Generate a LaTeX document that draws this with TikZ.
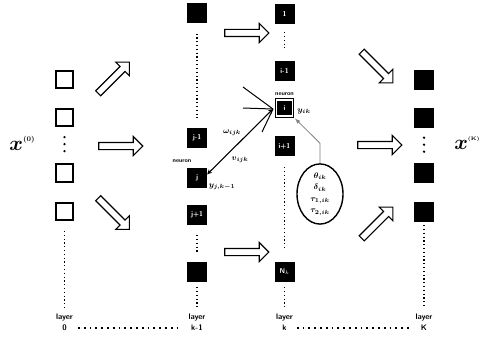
\documentclass[tikz,border=0pt]{standalone}
\usepackage{amsmath}
\usetikzlibrary{shapes.arrows, shapes.geometric}
\begin{document}
\begin{tikzpicture}[x=1pt, y=-1pt,
    inbox/.style={draw, line width=1.6pt, fill=white, minimum size=17.5pt, inner sep=0pt},
    unit/.style={fill=black, minimum size=20pt, inner sep=0pt, text=white, font=\sffamily\bfseries\fontsize{7}{7}\selectfont},
    ineuron/.style={unit, minimum size=16pt, draw=black, line width=1pt, double=white, double distance=1.4pt},
    vdot/.style={line width=1.2pt, dash pattern=on 1.2pt off 2.6pt},
    bigdot/.style={line width=2.6pt, line cap=round, dash pattern=on 0pt off 7pt},
    hdot/.style={line width=1.8pt, dash pattern=on 1.8pt off 4pt},
    hollow/.style={single arrow, draw, line width=1.1pt, fill=white, minimum height=44pt, inner sep=3pt, single arrow head extend=6pt},
    lab/.style={font=\sffamily\bfseries\footnotesize, inner sep=0pt},
    tinylab/.style={font=\sffamily\bfseries\fontsize{6}{6}\selectfont, inner sep=0pt},
    mlab/.style={font=\footnotesize\boldmath, inner sep=0pt}]
  \useasboundingbox (0,0) rectangle (484,337);

  % layer 0
  \node[inbox] (a1) at (64.5,79.5) {};
  \node[inbox] (a2) at (64.5,117.5) {};
  \node[inbox] (a3) at (64.5,173) {};
  \node[inbox] (a4) at (64.5,211.5) {};
  \draw[bigdot, shorten <=10pt, shorten >=11pt] (a2) -- (a3);
  \node (x0) at (22,143) {\huge$\boldsymbol{x}$\raisebox{9pt}{\scriptsize\bfseries(0)}};

  % layer k-1
  \node[unit] (b1) at (197,13.5) {};
  \node[unit] (bjm) at (197,138) {j-1};
  \node[unit] (bj) at (197,178) {j};
  \node[unit] (bjp) at (197,215) {j+1};
  \node[unit] (bN) at (197,272) {};
  \draw[vdot, shorten <=10pt, shorten >=10pt] (b1) -- (bjm);
  \draw[vdot, shorten <=10pt, shorten >=10pt] (bjp) -- (bN);

  % layer k
  \node[unit] (c1) at (284.5,14) {1};
  \node[unit] (cim) at (284.5,71) {i-1};
  \node[ineuron] (ci) at (284.5,108) {i};
  \node[unit] (cip) at (284.5,146) {i+1};
  \node[unit] (cN) at (284.5,272) {N$_k$};
  \draw[vdot, shorten <=8pt, shorten >=13pt] (c1) -- (cim);
  \draw[vdot, shorten <=11pt, shorten >=12pt] (cip) -- (cN);

  % layer K
  \node[unit] (d1) at (424,79.5) {};
  \node[unit] (d2) at (424,117.5) {};
  \node[unit] (d3) at (424,173) {};
  \node[unit] (d4) at (424,212) {};
  \draw[bigdot, shorten <=10pt, shorten >=11pt] (d2) -- (d3);
  \node (xK) at (467,143) {\huge$\boldsymbol{x}$\raisebox{9pt}{\tiny\bfseries(K)}};

  % block arrows
  \node[hollow, rotate=45] (ar1) at (112.5,79) {};
  \node[hollow] (ar2) at (119,146) {};
  \node[hollow, rotate=-45] (ar3) at (112.5,212.5) {};
  \node[hollow] (ar4) at (245,33) {};
  \node[hollow] (ar5) at (245,252) {};
  \node[hollow, rotate=-45] (ar6) at (376,66) {};
  \node[hollow] (ar7) at (378,145) {};
  \node[hollow, rotate=45] (ar8) at (376,224) {};

  % weights into neuron i
  \coordinate (tip) at (273,109);
  \coordinate (f1) at (243,87);
  \coordinate (f2) at (243,108);
  \coordinate (f3) at (262,132);
  \draw[line width=1pt] (f1) -- (tip);
  \draw[line width=1pt] (f2) -- (tip);
  \draw[line width=1pt] (f3) -- (tip);
  \draw[<->, >=stealth, line width=1.1pt] (bj.20) -- (tip);
  \node[mlab] (w) at (232,133) {$\omega_{ijk}$};
  \node[mlab] (v) at (240,160) {$v_{ijk}$};
  \node[tinylab] (nj) at (182,161) {neuron};
  \node[mlab] (yj) at (222,187) {$y_{j,k-1}$};
  \node[tinylab] (ni) at (284.5,94) {neuron};
  \node[mlab] (yi) at (304,111) {$y_{ik}$};

  % parameters
  \node[draw, ellipse, line width=1.4pt, minimum width=46pt, minimum height=60pt, inner sep=0pt,
        align=center, font=\footnotesize\boldmath] (ell) at (320,194)
        {$\theta_{ik}$\\[2pt]$\delta_{ik}$\\[2pt]$\tau_{1,ik}$\\[2pt]$\tau_{2,ik}$};
  \draw[gray, -latex, line width=0.8pt] (ell.north) -- ++(0,-20) -- ([shift={(2pt,-2pt)}]ci.south east);

  % layer labels
  \node[lab] (l0) at (64.5,318) {layer};
  \node[lab] (n0) at (64.5,328) {0};
  \node[lab] (lk1) at (197,318) {layer};
  \node[lab] (nk1) at (197,328) {k-1};
  \node[lab] (lk) at (284.5,318) {layer};
  \node[lab] (nk) at (284.5,328) {k};
  \node[lab] (lK) at (424,318) {layer};
  \node[lab] (nK) at (424,328) {K};
  \draw[vdot, shorten <=10pt, shorten >=6pt] (a4) -- (l0);
  \draw[vdot, shorten <=5pt, shorten >=6pt] (bN) -- (lk1);
  \draw[vdot, shorten <=5pt, shorten >=6pt] (cN) -- (lk);
  \draw[vdot, shorten <=3pt, shorten >=6pt] (d4) -- (lK);
  \draw[hdot, shorten <=11pt, shorten >=14pt] (n0) -- (nk1);
  \draw[hdot, shorten <=10pt, shorten >=12pt] (nk) -- (nK);
\end{tikzpicture}
\end{document}
